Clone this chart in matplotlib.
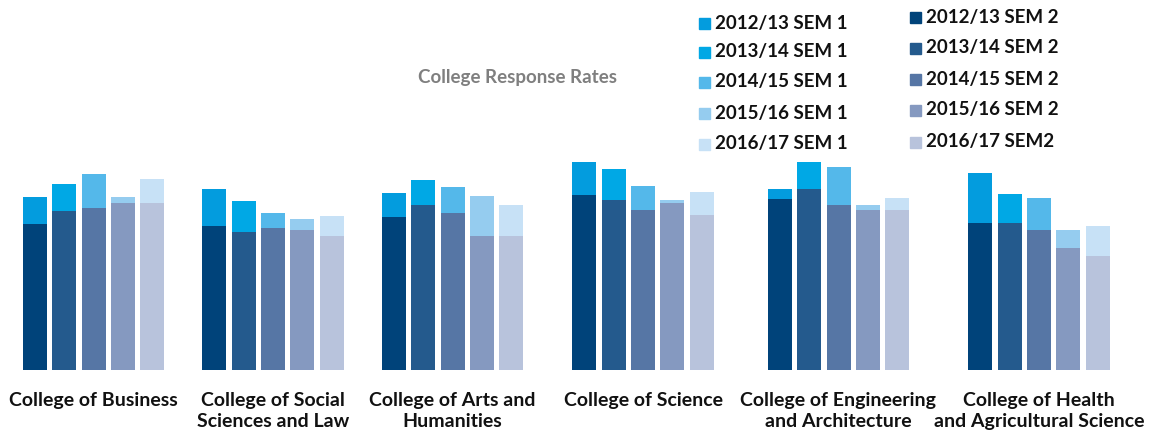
import matplotlib.pyplot as plt
from matplotlib.patches import Rectangle

COLLEGES = [
    "College of Business",
    "College of Social\nSciences and Law",
    "College of Arts and\nHumanities",
    "College of Science",
    "College of Engineering\nand Architecture",
    "College of Health\nand Agricultural Science",
]

# response rates (%), one list per semester, ordered as COLLEGES
sem1_1213 = [43.2, 45.2, 44.2, 52.0, 45.2, 49.2]
sem1_1314 = [46.5, 42.2, 47.5, 50.2, 52.0, 44.0]
sem1_1415 = [49.0, 39.2, 45.8, 46.0, 50.8, 43.0]
sem1_1516 = [43.2, 37.8, 43.5, 42.5, 41.2, 35.0]
sem1_1617 = [47.8, 38.5, 41.2, 44.5, 43.0, 36.0]

sem2_1213 = [36.5, 36.0, 38.2, 43.8, 42.8, 36.8]
sem2_1314 = [39.8, 34.5, 41.2, 42.5, 45.2, 36.8]
sem2_1415 = [40.5, 35.5, 39.2, 40.0, 41.2, 35.0]
sem2_1516 = [41.8, 35.0, 33.5, 41.8, 40.0, 30.5]
sem2_1617 = [41.8, 33.5, 33.5, 38.8, 40.0, 28.5]

SEM1_LABELS = ["2012/13 SEM 1", "2013/14 SEM 1", "2014/15 SEM 1",
               "2015/16 SEM 1", "2016/17 SEM 1"]
SEM2_LABELS = ["2012/13 SEM 2", "2013/14 SEM 2", "2014/15 SEM 2",
               "2015/16 SEM 2", "2016/17 SEM2"]

SEM1_COLORS = ["#039cde", "#00a8e5", "#54b8ea", "#95ccef", "#c7e1f6"]
SEM2_COLORS = ["#00437a", "#245a8d", "#5676a5", "#8599c0", "#b8c3dc"]

# group centres and bar layout, in pixels across the figure
GROUP_X = [93.5, 273, 452.5, 643, 838.5, 1039]
BAR_W = 24
BAR_STEP = 29.3

W, H = 1149, 432
BASE_Y = 370          # baseline, px from top
PX_PER_PCT = 4.0

plt.rcParams['font.family'] = ['Lato', 'DejaVu Sans']

fig = plt.figure(figsize=(W / 100, H / 100), dpi=100)
top_px = 60
ax = fig.add_axes([0, (H - BASE_Y) / H, 1, (BASE_Y - top_px) / H])
ax.set_xlim(0, W)
ax.set_ylim(0, (BASE_Y - top_px) / PX_PER_PCT)

sem1 = [sem1_1213, sem1_1314, sem1_1415, sem1_1516, sem1_1617]
sem2 = [sem2_1213, sem2_1314, sem2_1415, sem2_1516, sem2_1617]

for i in range(5):
    xs = [g + (i - 2) * BAR_STEP for g in GROUP_X]
    ax.bar(xs, sem1[i], width=BAR_W, color=SEM1_COLORS[i], zorder=1)
    ax.bar(xs, sem2[i], width=BAR_W, color=SEM2_COLORS[i], zorder=2)

ax.set_xticks(GROUP_X)
ax.set_xticklabels(COLLEGES, fontsize=14, fontweight='bold',
                   linespacing=1.35, color='#111111')
ax.tick_params(axis='x', length=0, pad=15.5)
ax.set_yticks([])
for s in ax.spines.values():
    s.set_visible(False)

fig.text(517.5 / W, 1 - 78 / H, "College Response Rates", ha='center',
         va='center', fontsize=13.5, fontweight='bold', color='#7f7f7f')


def legend_column(x_box, y_rows, labels, colors):
    for y, lab, col in zip(y_rows, labels, colors):
        fig.add_artist(Rectangle(((x_box) / W, 1 - (y + 5.5) / H), 11 / W, 11 / H,
                                 transform=fig.transFigure, color=col))
        fig.text((x_box + 16) / W, 1 - y / H, lab, ha='left', va='center',
                 fontsize=13.5, fontweight='bold', color='#111111')


legend_column(699, [23, 52, 82, 113, 144], SEM1_LABELS, SEM1_COLORS)
legend_column(910, [17, 48, 79, 110, 142], SEM2_LABELS, SEM2_COLORS)

fig.savefig("out.png", dpi=100)
